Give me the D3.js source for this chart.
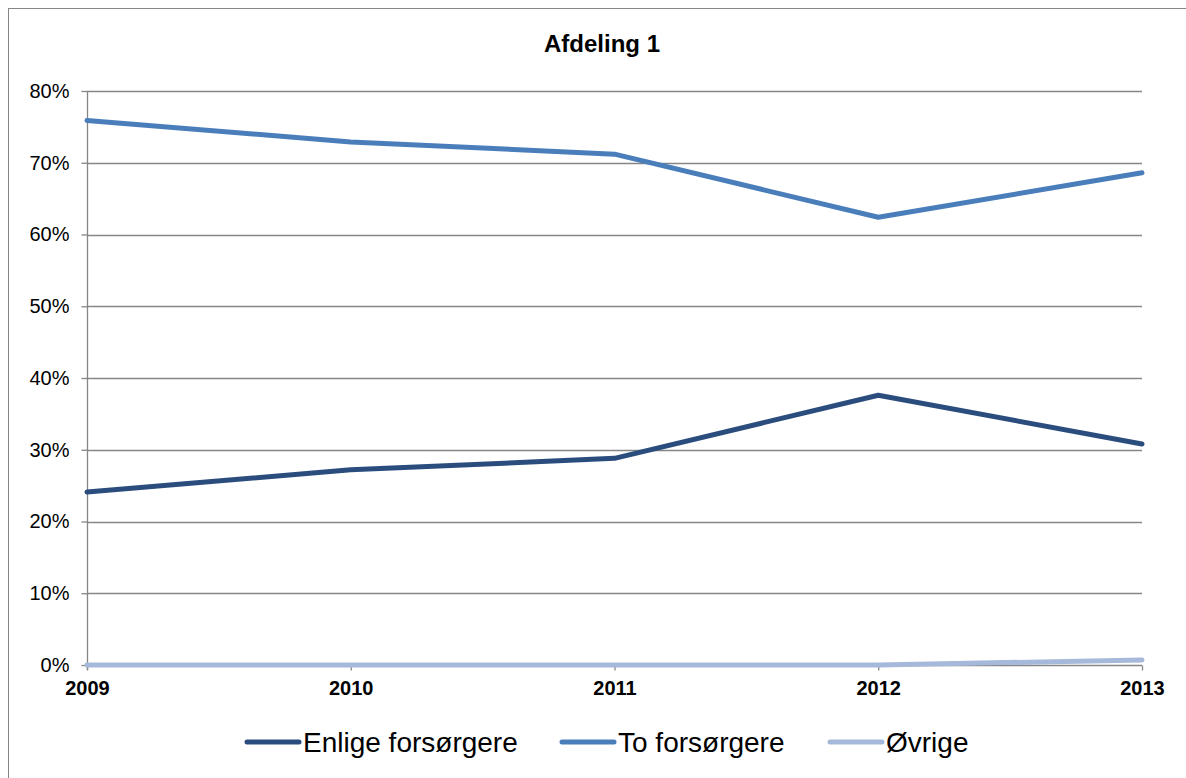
<!DOCTYPE html>
<html>
<head>
<meta charset="utf-8">
<script src="https://cdn.jsdelivr.net/npm/d3@7"></script>
<style>
  html, body { margin: 0; padding: 0; background: #fff; }
  svg { display: block; font-family: "Liberation Sans", Arial, sans-serif; }
</style>
</head>
<body>
<svg id="chart" width="1186" height="778"></svg>
<script>
const title = "Afdeling 1";
const years = ["2009", "2010", "2011", "2012", "2013"];
const seriesNames = ["Enlige forsørgere", "To forsørgere", "Øvrige"];
const enlige = [0.241, 0.272, 0.288, 0.376, 0.308];
const to = [0.759, 0.729, 0.712, 0.624, 0.686];
const ovrige = [0, 0, 0, 0, 0.007];
const yTicks = [0, 0.1, 0.2, 0.3, 0.4, 0.5, 0.6, 0.7, 0.8];
const colors = ["#2B4D7E", "#4A7EBB", "#A6B9DA"];

const series = [enlige, to, ovrige].map((vals, i) => ({ name: seriesNames[i], values: vals, color: colors[i] }));

const svg = d3.select("#chart");
const W = 1186, H = 778;

// outer frame
svg.append("rect").attr("x", 8.5).attr("y", 8.5).attr("width", W + 20).attr("height", H + 20)
  .attr("fill", "#fff").attr("stroke", "#868686").attr("stroke-width", 1);

const x = d3.scalePoint().domain(years).range([87, 1142]);
const y = d3.scaleLinear().domain([0, 0.8]).range([665, 91]);

// gridlines
svg.append("g").selectAll("line").data(yTicks.filter(d => d > 0)).join("line")
  .attr("x1", 87).attr("x2", 1142)
  .attr("y1", d => Math.round(y(d)) + 0.5).attr("y2", d => Math.round(y(d)) + 0.5)
  .attr("stroke", "#868686").attr("stroke-width", 1.3);

// y axis
const yAxis = svg.append("g").attr("transform", "translate(87.5,0)")
  .call(d3.axisLeft(y).tickValues(yTicks).tickFormat(d3.format(".0%")).tickSize(6).tickPadding(12));
yAxis.select(".domain").attr("stroke", "#868686").attr("stroke-width", 1.3)
  .attr("d", `M0,${y(0.8)}V${y(0) + 5}`);
yAxis.selectAll(".tick line").attr("stroke", "#868686").attr("stroke-width", 1.3);
yAxis.selectAll(".tick text").attr("font-size", 20).attr("fill", "#000")
  .attr("font-family", "Liberation Sans, Arial, sans-serif");

// x axis
const xAxis = svg.append("g").attr("transform", `translate(0,${Math.round(y(0)) + 0.5})`)
  .call(d3.axisBottom(x).tickSize(5).tickPadding(10));
xAxis.select(".domain").attr("stroke", "#868686").attr("stroke-width", 1.3)
  .attr("d", `M87,0H1142`);
xAxis.selectAll(".tick line").attr("stroke", "#868686").attr("stroke-width", 1.3);
xAxis.selectAll(".tick text").attr("font-size", 20).attr("font-weight", "bold").attr("fill", "#000")
  .attr("font-family", "Liberation Sans, Arial, sans-serif");

// lines
const line = d3.line().x((d, i) => x(years[i])).y(d => y(d));
svg.append("g").selectAll("path").data(series.slice().reverse()).join("path")
  .attr("d", d => line(d.values))
  .attr("fill", "none").attr("stroke", d => d.color).attr("stroke-width", 5)
  .attr("stroke-linejoin", "round").attr("stroke-linecap", "round");

// title
svg.append("text").attr("x", 602).attr("y", 52).attr("text-anchor", "middle")
  .attr("font-size", 24).attr("font-weight", "bold").text(title);

// legend
const legendX = [247, 562, 830];
const lg = svg.append("g").selectAll("g").data(series).join("g")
  .attr("transform", (d, i) => `translate(${legendX[i]},742)`);
lg.append("line").attr("x1", 0).attr("x2", 52).attr("y1", 0).attr("y2", 0)
  .attr("stroke", d => d.color).attr("stroke-width", 5).attr("stroke-linecap", "round");
lg.append("text").attr("x", 56).attr("y", 10).attr("font-size", 28).attr("fill", "#000").text(d => d.name);
</script>
</body>
</html>
